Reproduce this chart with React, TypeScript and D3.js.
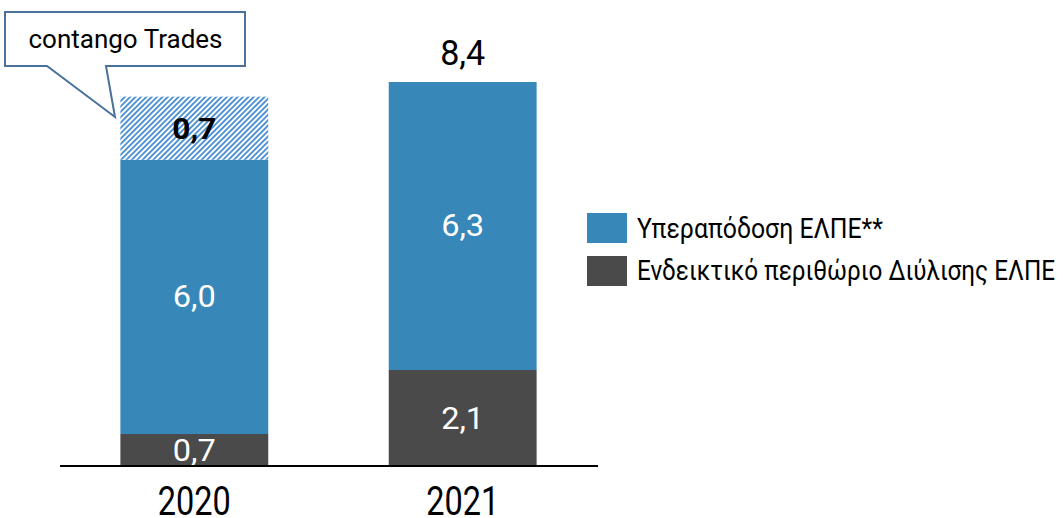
import React from "react";
import * as d3 from "d3";

const years = ["2020", "2021"];
const refining = [0.7, 2.1];
const outperformance = [6.0, 6.3];
const contango = [1.38, 0];
const contangoLabels = ["0,7", ""];
const totals = ["", "8,4"];
const legendLabels = ["Υπεραπόδοση ΕΛΠΕ**", "Ενδεικτικό περιθώριο Διύλισης ΕΛΠΕ"];

const W = 1063, H = 518;
const BLUE = "#3787b9";
const DARK = "#4a4a4a";
const FONT = "Roboto, 'Noto Sans', sans-serif";

function T(props: any) {
  const { x, y, children, size, fill = "#000", weight = 400, anchor = "middle", len } = props;
  return (
    <text x={x} y={y} fontSize={size} fill={fill} fontWeight={weight} textAnchor={anchor}
      fontFamily={FONT} textLength={len} lengthAdjust="spacingAndGlyphs">
      {children}
    </text>
  );
}

export default function App() {
  const x = d3.scaleBand().domain(years).range([60, 597]).paddingInner(0.449).paddingOuter(0.225);
  const y = d3.scaleLinear().domain([0, 8.4]).range([466, 82]);
  const bw = x.bandwidth();
  const fmt = (v: number) => d3.format(".1f")(v).replace(".", ",");

  return (
    <svg width={W} height={H} style={{ display: "block", position: "absolute", left: 0, top: 0 }}>
      <defs>
        <pattern id="hatch" patternUnits="userSpaceOnUse" width="3.8" height="3.8" patternTransform="rotate(45)">
          <rect width="3.8" height="3.8" fill="#fff" />
          <rect width="1.9" height="3.8" fill="#4f93d2" />
        </pattern>
      </defs>
      {years.map((yr, i) => {
        const x0 = x(yr)!;
        const cx = x0 + bw / 2;
        const b0 = y(0), b1 = y(refining[i]), b2 = y(refining[i] + outperformance[i]);
        const b3 = y(refining[i] + outperformance[i] + contango[i]);
        return (
          <g key={yr}>
            <rect x={x0} y={b1} width={bw} height={b0 - b1} fill={DARK} />
            <rect x={x0} y={b2} width={bw} height={b1 - b2} fill={BLUE} />
            {contango[i] > 0 && <rect x={x0} y={b3} width={bw} height={b2 - b3} fill="url(#hatch)" />}
            <T x={cx} y={(b0 + b1) / 2 + 10.5} size={32} fill="#fff" len={43}>{fmt(refining[i])}</T>
            <T x={cx} y={(b1 + b2) / 2 + 10} size={32} fill="#fff" len={43}>{fmt(outperformance[i])}</T>
            {contango[i] > 0 && <T x={cx} y={(b2 + b3) / 2 + 10.5} size={30} weight={700} len={44}>{contangoLabels[i]}</T>}
            {totals[i] && <T x={cx} y={b2 - 17} size={35} len={45}>{totals[i]}</T>}
            <T x={cx} y={515} size={41} len={73}>{yr}</T>
          </g>
        );
      })}
      <line x1={60} x2={598} y1={466} y2={466} stroke="#000" strokeWidth={2} />
      {/* callout */}
      <path d="M5,12 H245 V66 H106 L115,117 L47,66 H5 Z" fill="#fff" stroke="#4a719c" strokeWidth={2} />
      <T x={125.5} y={48} size={26} len={194}>contango Trades</T>
      {/* legend */}
      {legendLabels.map((l, i) => (
        <g key={l}>
          <rect x={587} y={213 + i * 43} width={40} height={30} fill={i === 0 ? BLUE : DARK} />
          <T x={637} y={238 + i * 42} size={27} anchor="start" len={i === 0 ? 246 : 418}>{l}</T>
        </g>
      ))}
    </svg>
  );
}
